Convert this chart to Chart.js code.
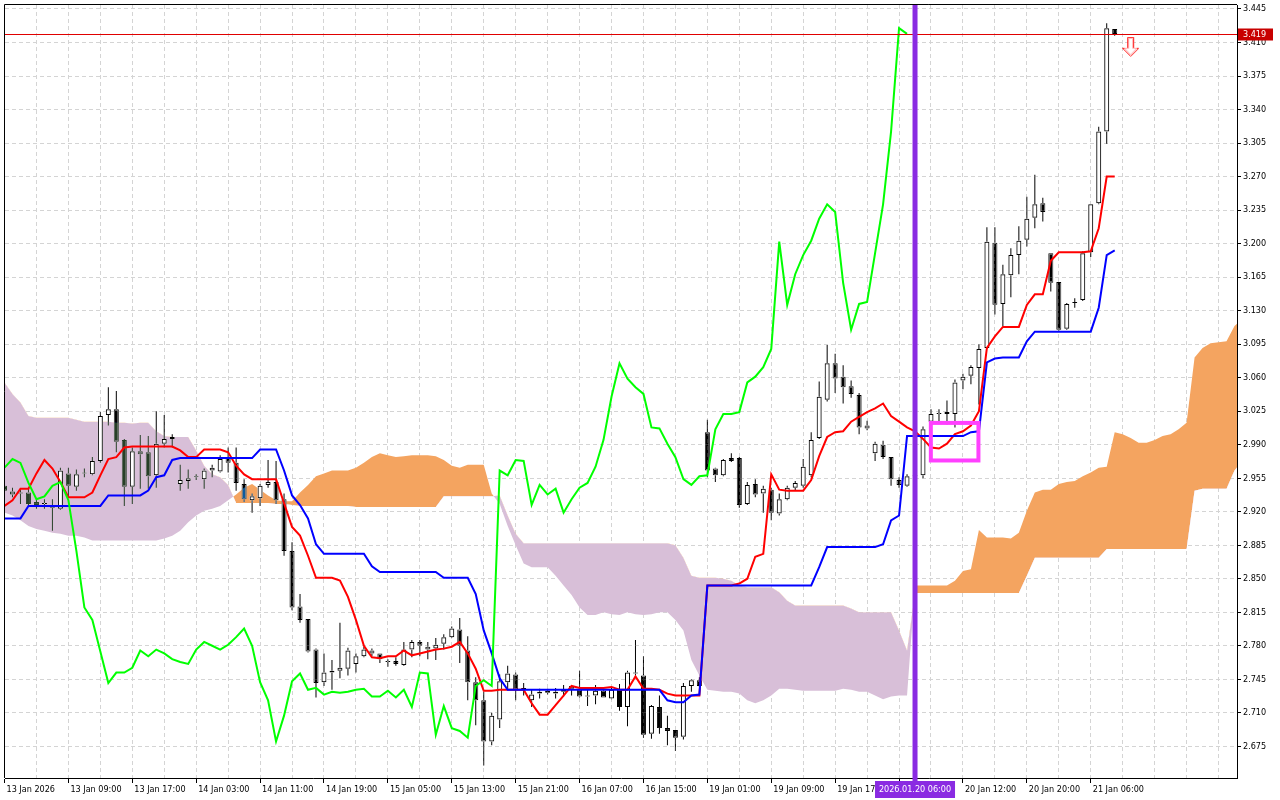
<!DOCTYPE html>
<html>
<head>
<meta charset="utf-8">
<script src="https://cdn.jsdelivr.net/npm/chart.js@4.4.1/dist/chart.umd.min.js"></script>
<style>
  html, body { margin: 0; padding: 0; background: #fff; }
</style>
</head>
<body>
<canvas id="chart" width="1280" height="800"></canvas>
<script>
// hourly candles, bar 0 = 13 Jan 2026 00:00
const opens = [
  2.947, 2.941, 2.940, 2.940, 2.930, 2.928, 2.927, 2.923, 2.960, 2.946,
  2.960, 2.959, 2.973, 3.021, 3.027, 2.995, 2.946, 2.983, 2.982, 2.958,
  2.991, 2.996, 2.949, 2.952, 2.956, 2.954, 2.963, 2.962, 2.977, 2.971,
  2.949, 2.932, 2.934, 2.948, 2.951, 2.933, 2.879, 2.821, 2.808, 2.776,
  2.742, 2.754, 2.754, 2.756, 2.761, 2.769, 2.775, 2.772, 2.763, 2.764,
  2.760, 2.776, 2.784, 2.779, 2.777, 2.782, 2.789, 2.797, 2.775, 2.742,
  2.723, 2.680, 2.703, 2.742, 2.750, 2.734, 2.723, 2.730, 2.733, 2.730,
  2.732, 2.738, 2.734, 2.727, 2.728, 2.733, 2.725, 2.734, 2.716, 2.751,
  2.749, 2.688, 2.716, 2.694, 2.692, 2.685, 2.738, 2.744, 3.003, 2.965,
  2.958, 2.976, 2.976, 2.928, 2.949, 2.939, 2.943, 2.918, 2.933, 2.945,
  2.947, 2.958, 2.997, 3.037, 3.075, 3.061, 3.051, 3.042, 3.010, 2.981,
  2.990, 2.977, 2.953, 2.947, 2.957, 2.958, 3.014, 3.022, 3.022, 3.022,
  3.057, 3.062, 3.070, 3.091, 3.201, 3.137, 3.167, 3.188, 3.204, 3.227,
  3.242, 3.190, 3.160, 3.111, 3.138, 3.141, 3.191, 3.242, 3.317, 3.424
];
const highs = [
  2.950, 2.945, 2.944, 2.944, 2.934, 2.933, 2.933, 2.966, 2.966, 2.964,
  2.965, 2.977, 3.024, 3.050, 3.046, 2.996, 2.987, 3.000, 2.999, 3.025,
  3.021, 3.001, 2.969, 2.964, 2.959, 2.965, 2.969, 2.979, 2.987, 2.987,
  2.954, 2.939, 2.949, 2.974, 2.973, 2.939, 2.888, 2.834, 2.808, 2.777,
  2.772, 2.765, 2.804, 2.778, 2.772, 2.779, 2.777, 2.772, 2.766, 2.768,
  2.784, 2.786, 2.786, 2.784, 2.788, 2.792, 2.800, 2.809, 2.790, 2.747,
  2.732, 2.710, 2.750, 2.759, 2.752, 2.741, 2.734, 2.735, 2.735, 2.736,
  2.739, 2.739, 2.754, 2.734, 2.739, 2.735, 2.737, 2.740, 2.754, 2.786,
  2.769, 2.718, 2.728, 2.707, 2.692, 2.741, 2.745, 2.747, 3.016, 2.966,
  2.975, 2.981, 2.977, 2.951, 2.954, 2.947, 2.945, 2.939, 2.947, 2.952,
  2.975, 3.003, 3.056, 3.094, 3.085, 3.073, 3.057, 3.044, 3.015, 2.993,
  2.994, 2.977, 2.956, 2.959, 2.961, 3.009, 3.027, 3.027, 3.036, 3.058,
  3.064, 3.073, 3.095, 3.217, 3.217, 3.178, 3.195, 3.218, 3.249, 3.272,
  3.248, 3.190, 3.160, 3.138, 3.143, 3.192, 3.241, 3.322, 3.430, 3.424
];
const lows = [
  2.939, 2.935, 2.928, 2.926, 2.923, 2.923, 2.900, 2.922, 2.935, 2.942,
  2.956, 2.958, 2.971, 3.010, 2.982, 2.926, 2.928, 2.944, 2.944, 2.945,
  2.987, 2.987, 2.942, 2.944, 2.953, 2.944, 2.956, 2.961, 2.961, 2.942,
  2.930, 2.919, 2.926, 2.945, 2.928, 2.874, 2.817, 2.804, 2.773, 2.726,
  2.738, 2.734, 2.746, 2.749, 2.752, 2.768, 2.769, 2.762, 2.758, 2.759,
  2.759, 2.768, 2.769, 2.766, 2.765, 2.776, 2.788, 2.762, 2.723, 2.697,
  2.655, 2.676, 2.694, 2.734, 2.723, 2.728, 2.716, 2.725, 2.729, 2.725,
  2.727, 2.728, 2.726, 2.717, 2.719, 2.726, 2.724, 2.712, 2.696, 2.749,
  2.684, 2.683, 2.688, 2.676, 2.670, 2.682, 2.732, 2.737, 2.956, 2.951,
  2.957, 2.972, 2.924, 2.927, 2.935, 2.919, 2.911, 2.916, 2.932, 2.942,
  2.945, 2.956, 2.996, 3.035, 3.044, 3.033, 3.039, 3.001, 3.005, 2.973,
  2.975, 2.947, 2.945, 2.946, 2.953, 2.955, 3.011, 3.013, 3.011, 3.008,
  3.048, 3.053, 3.032, 3.090, 3.126, 3.114, 3.144, 3.168, 3.197, 3.216,
  3.223, 3.150, 3.109, 3.110, 3.133, 3.140, 3.186, 3.241, 3.304, 3.417
];
const closes = [
  2.942, 2.938, 2.939, 2.928, 2.927, 2.928, 2.924, 2.963, 2.947, 2.959,
  2.960, 2.973, 3.020, 3.027, 2.993, 2.946, 2.983, 2.980, 2.957, 2.991,
  2.996, 2.998, 2.953, 2.955, 2.956, 2.963, 2.966, 2.975, 2.971, 2.950,
  2.933, 2.936, 2.947, 2.951, 2.932, 2.879, 2.820, 2.807, 2.774, 2.741,
  2.752, 2.752, 2.757, 2.775, 2.769, 2.776, 2.772, 2.766, 2.763, 2.761,
  2.776, 2.784, 2.780, 2.776, 2.781, 2.789, 2.798, 2.780, 2.742, 2.723,
  2.680, 2.707, 2.743, 2.751, 2.734, 2.736, 2.729, 2.732, 2.731, 2.732,
  2.734, 2.735, 2.727, 2.727, 2.733, 2.726, 2.734, 2.716, 2.752, 2.751,
  2.687, 2.717, 2.694, 2.691, 2.684, 2.738, 2.744, 2.738, 2.963, 2.958,
  2.974, 2.973, 2.927, 2.948, 2.938, 2.944, 2.919, 2.933, 2.945, 2.950,
  2.967, 2.995, 3.040, 3.075, 3.059, 3.050, 3.043, 3.008, 3.007, 2.991,
  2.977, 2.954, 2.948, 2.957, 2.958, 3.006, 3.022, 3.022, 3.024, 3.055,
  3.061, 3.071, 3.090, 3.202, 3.136, 3.168, 3.188, 3.203, 3.226, 3.241,
  3.233, 3.159, 3.110, 3.137, 3.139, 3.190, 3.241, 3.317, 3.425, 3.419
];

// Ichimoku (9, 26, 52)
const tenkan = [
  2.926, 2.932, 2.944, 2.944, 2.960, 2.974, 2.965, 2.951, 2.935, 2.935,
  2.935, 2.940, 2.958, 2.975, 2.977, 2.987, 2.988, 2.988, 2.988, 2.988,
  2.988, 2.988, 2.984, 2.977, 2.977, 2.985, 2.985, 2.985, 2.982, 2.968,
  2.959, 2.954, 2.954, 2.954, 2.954, 2.929, 2.904, 2.895, 2.874, 2.851,
  2.851, 2.851, 2.848, 2.831, 2.807, 2.780, 2.768, 2.767, 2.769, 2.769,
  2.775, 2.770, 2.772, 2.774, 2.776, 2.777, 2.779, 2.784, 2.772, 2.756,
  2.733, 2.733, 2.734, 2.734, 2.734, 2.734, 2.720, 2.708, 2.708, 2.718,
  2.728, 2.738, 2.736, 2.736, 2.736, 2.736, 2.737, 2.734, 2.734, 2.748,
  2.735, 2.735, 2.734, 2.730, 2.728, 2.728, 2.728, 2.728, 2.843, 2.843,
  2.843, 2.843, 2.845, 2.850, 2.873, 2.876, 2.959, 2.943, 2.942, 2.942,
  2.942, 2.953, 2.978, 2.998, 3.003, 3.004, 3.014, 3.019, 3.024, 3.028,
  3.033, 3.020, 3.014, 3.008, 3.004, 2.996, 2.987, 2.986, 2.991, 3.001,
  3.004, 3.010, 3.025, 3.091, 3.103, 3.113, 3.113, 3.113, 3.136, 3.147,
  3.147, 3.182, 3.191, 3.191, 3.191, 3.191, 3.192, 3.216, 3.270, 3.270
];
const kijun = [
  2.913, 2.913, 2.913, 2.926, 2.926, 2.926, 2.926, 2.926, 2.926, 2.926,
  2.926, 2.926, 2.926, 2.937, 2.937, 2.937, 2.937, 2.937, 2.942, 2.956,
  2.958, 2.974, 2.976, 2.976, 2.976, 2.976, 2.976, 2.976, 2.976, 2.976,
  2.976, 2.976, 2.985, 2.985, 2.985, 2.963, 2.937, 2.927, 2.913, 2.886,
  2.876, 2.876, 2.876, 2.876, 2.876, 2.876, 2.863, 2.857, 2.857, 2.857,
  2.857, 2.857, 2.857, 2.857, 2.857, 2.851, 2.851, 2.851, 2.851, 2.834,
  2.796, 2.772, 2.746, 2.734, 2.734, 2.734, 2.734, 2.734, 2.734, 2.734,
  2.734, 2.734, 2.734, 2.734, 2.734, 2.734, 2.734, 2.734, 2.734, 2.734,
  2.734, 2.734, 2.734, 2.723, 2.721, 2.721, 2.728, 2.729, 2.843, 2.843,
  2.843, 2.843, 2.843, 2.843, 2.843, 2.843, 2.843, 2.843, 2.843, 2.843,
  2.843, 2.843, 2.862, 2.883, 2.883, 2.883, 2.883, 2.883, 2.883, 2.883,
  2.886, 2.911, 2.916, 2.999, 2.999, 2.999, 2.999, 2.999, 2.999, 2.999,
  2.999, 3.003, 3.004, 3.076, 3.080, 3.081, 3.081, 3.081, 3.098, 3.108,
  3.108, 3.108, 3.108, 3.108, 3.108, 3.108, 3.108, 3.133, 3.188, 3.193
];
// cloud spans, already shifted 26 bars forward (bars 0..155)
const senkouA = [
  2.919, 2.916, 2.911, 2.905, 2.902, 2.900, 2.898, 2.897, 2.895, 2.895,
  2.893, 2.890, 2.890, 2.890, 2.890, 2.890, 2.890, 2.890, 2.890, 2.890,
  2.892, 2.895, 2.900, 2.909, 2.916, 2.921, 2.923, 2.926, 2.932, 2.938,
  2.945, 2.949, 2.943, 2.937, 2.932, 2.931, 2.931, 2.940, 2.948, 2.957,
  2.960, 2.963, 2.963, 2.963, 2.966, 2.971, 2.977, 2.981, 2.979, 2.977,
  2.978, 2.979, 2.979, 2.979, 2.978, 2.974, 2.968, 2.966, 2.969, 2.969,
  2.969, 2.939, 2.928, 2.905, 2.885, 2.866, 2.862, 2.862, 2.862, 2.853,
  2.843, 2.833, 2.820, 2.812, 2.812, 2.815, 2.813, 2.812, 2.815, 2.813,
  2.812, 2.813, 2.815, 2.815, 2.807, 2.796, 2.765, 2.749, 2.734, 2.733,
  2.732, 2.732, 2.730, 2.723, 2.720, 2.723, 2.728, 2.735, 2.735, 2.734,
  2.733, 2.733, 2.733, 2.733, 2.733, 2.735, 2.734, 2.732, 2.732, 2.728,
  2.724, 2.727, 2.728, 2.728, 2.843, 2.843, 2.843, 2.843, 2.843, 2.848,
  2.858, 2.860, 2.901, 2.893, 2.893, 2.893, 2.892, 2.898, 2.921, 2.940,
  2.943, 2.943, 2.949, 2.951, 2.952, 2.957, 2.961, 2.966, 2.967, 3.003,
  3.001, 2.997, 2.992, 2.992, 2.995, 2.999, 3.001, 3.006, 3.013, 3.081,
  3.091, 3.096, 3.097, 3.098, 3.114, 3.121
];
const senkouB = [
  3.055, 3.043, 3.034, 3.020, 3.018, 3.018, 3.018, 3.018, 3.018, 3.016,
  3.014, 3.014, 3.014, 3.014, 3.013, 3.013, 3.012, 3.013, 3.013, 3.004,
  2.999, 2.998, 2.998, 2.998, 2.984, 2.968, 2.959, 2.956, 2.948, 2.929,
  2.929, 2.929, 2.929, 2.929, 2.928, 2.928, 2.927, 2.926, 2.926, 2.926,
  2.926, 2.926, 2.926, 2.926, 2.925, 2.925, 2.925, 2.925, 2.925, 2.925,
  2.925, 2.925, 2.925, 2.925, 2.925, 2.936, 2.936, 2.936, 2.936, 2.936,
  2.936, 2.936, 2.937, 2.916, 2.897, 2.887, 2.887, 2.887, 2.887, 2.887,
  2.887, 2.887, 2.887, 2.887, 2.887, 2.887, 2.887, 2.887, 2.887, 2.887,
  2.887, 2.887, 2.887, 2.887, 2.885, 2.872, 2.853, 2.851, 2.851, 2.851,
  2.850, 2.848, 2.843, 2.841, 2.841, 2.841, 2.841, 2.836, 2.827, 2.822,
  2.822, 2.822, 2.822, 2.822, 2.822, 2.822, 2.819, 2.815, 2.815, 2.815,
  2.815, 2.815, 2.796, 2.775, 2.835, 2.835, 2.835, 2.835, 2.835, 2.835,
  2.835, 2.835, 2.835, 2.835, 2.835, 2.835, 2.835, 2.835, 2.853, 2.872,
  2.872, 2.872, 2.872, 2.872, 2.872, 2.872, 2.872, 2.872, 2.881, 2.881,
  2.881, 2.881, 2.881, 2.881, 2.881, 2.881, 2.881, 2.881, 2.881, 2.942,
  2.944, 2.944, 2.944, 2.944, 2.963, 2.973
];
const chikouShift = 26;

// axes
const priceTicks = [
  2.675, 2.710, 2.745, 2.780, 2.815, 2.850, 2.885, 2.920, 2.955, 2.990, 3.025, 3.060,
  3.095, 3.130, 3.165, 3.200, 3.235, 3.270, 3.305, 3.340, 3.375, 3.410, 3.445
];
const labelBars = [0, 8, 16, 24, 32, 40, 48, 56, 64, 72, 80, 88, 96, 104, 112, 120, 128, 136];
const labelTexts = [
  '13 Jan 2026', '13 Jan 09:00', '13 Jan 17:00', '14 Jan 03:00', '14 Jan 11:00', '14 Jan 19:00',
  '15 Jan 05:00', '15 Jan 13:00', '15 Jan 21:00', '16 Jan 07:00', '16 Jan 15:00', '19 Jan 01:00',
  '19 Jan 09:00', '19 Jan 17:00', '20 Jan 04:00', '20 Jan 12:00', '20 Jan 20:00', '21 Jan 06:00'
];

// chart objects
const lastPrice = 3.419;
const markerBar = 114;
const markerTime = '2026.01.20 06:00';
const boxBars = [115.73, 122.19];
const boxPrices = [3.0148, 2.9714];
const signalBars = [141];
const signalPrices = [3.405];

const FONT = "'DejaVu Sans Condensed', 'DejaVu Sans', sans-serif";
const GRID = '#d4d4d4';

const idx = closes.map((_, i) => i);
const isBull = i => closes[i] >= opens[i];
const bodyData = idx.map(i => ({ x: i, y: [Math.min(opens[i], closes[i]), Math.max(opens[i], closes[i])] }));
const bullFillData = idx.filter(isBull).map(i => ({ x: i, y: bodyData[i].y.slice() }));
const upperWickData = idx.map(i => ({ x: i, y: [Math.max(opens[i], closes[i]), highs[i]] }));
const lowerWickData = idx.map(i => ({ x: i, y: [lows[i], Math.min(opens[i], closes[i])] }));
const toPts = arr => arr.map((v, i) => ({ x: i, y: v }));
const chikouData = closes.map((v, i) => ({ x: i - chikouShift, y: v })).filter(p => p.x >= 0);

function makeArrow() {
  const c = document.createElement('canvas');
  c.width = 17; c.height = 21;
  const g = c.getContext('2d');
  const shape = (d) => {
    g.beginPath();
    g.moveTo(5.5 + d, 0.5 + d); g.lineTo(11.5 - d, 0.5 + d); g.lineTo(11.5 - d, 11.5);
    g.lineTo(16.5 - 2 * d, 11.5); g.lineTo(8.5, 19.5 - 1.5 * d); g.lineTo(0.5 + 2 * d, 11.5);
    g.lineTo(5.5 + d, 11.5); g.closePath();
  };
  shape(0);
  g.fillStyle = '#fff'; g.fill();
  g.strokeStyle = '#ff2020'; g.lineWidth = 1; g.stroke();
  shape(1);
  g.strokeStyle = '#ffb4b4'; g.stroke();
  return c;
}

// opaque white canvas, needed for the inverted candle drawing below
const backgroundPlugin = {
  id: 'whiteBg',
  beforeDraw(chart) {
    const { ctx, width, height } = chart;
    ctx.save();
    ctx.fillStyle = '#fff';
    ctx.fillRect(0, 0, width, height);
    ctx.restore();
  }
};

// black candle parts are drawn inverted, like the terminal does over the cloud
const invertPlugin = {
  id: 'invertCandles',
  beforeDatasetDraw(chart, args) {
    if (chart.data.datasets[args.index].invert) chart.ctx.globalCompositeOperation = 'difference';
  },
  afterDatasetDraw(chart) {
    chart.ctx.globalCompositeOperation = 'source-over';
  }
};

const overlayPlugin = {
  id: 'overlay',
  afterDatasetsDraw(chart) {
    const { ctx, chartArea: a, scales: { x, y } } = chart;
    ctx.save();
    const py = Math.round(y.getPixelForValue(lastPrice)) + 0.5;
    ctx.strokeStyle = '#e00000';
    ctx.lineWidth = 1;
    ctx.beginPath(); ctx.moveTo(a.left, py); ctx.lineTo(a.right, py); ctx.stroke();

    const vx = x.getPixelForValue(markerBar);
    ctx.fillStyle = '#8a2be2';
    ctx.fillRect(vx - 2.5, a.top, 5, a.bottom - a.top + 3);

    const bx1 = x.getPixelForValue(boxBars[0]), bx2 = x.getPixelForValue(boxBars[1]);
    const by1 = y.getPixelForValue(boxPrices[0]), by2 = y.getPixelForValue(boxPrices[1]);
    ctx.strokeStyle = '#ff40ff';
    ctx.lineWidth = 4;
    ctx.strokeRect(bx1 + 2, by1 + 2, bx2 - bx1 - 4, by2 - by1 - 4);
    ctx.restore();
  },
  afterDraw(chart) {
    const { ctx, chartArea: a, scales: { x, y } } = chart;
    ctx.save();
    // frame
    ctx.strokeStyle = '#000';
    ctx.lineWidth = 1;
    ctx.beginPath();
    ctx.moveTo(a.left - 0.5, a.bottom); ctx.lineTo(a.left - 0.5, a.top - 0.5); ctx.lineTo(a.right, a.top - 0.5);
    ctx.stroke();

    ctx.font = '9px ' + FONT;
    ctx.textBaseline = 'middle';
    // price tag
    const py = Math.round(y.getPixelForValue(lastPrice)) + 0.5;
    ctx.fillStyle = '#c80000';
    ctx.fillRect(a.right + 1, py - 6, 35, 12);
    ctx.fillStyle = '#fff';
    ctx.textAlign = 'left';
    ctx.fillText(lastPrice.toFixed(3), a.right + 6, py);
    // time tag
    const vx = x.getPixelForValue(markerBar);
    ctx.fillStyle = '#8a2be2';
    ctx.fillRect(vx - 40, a.bottom + 3, 80, 17);
    ctx.fillStyle = '#fff';
    ctx.textAlign = 'center';
    ctx.fillText(markerTime, vx, a.bottom + 12);
    ctx.restore();
  }
};

const barCommon = { grouped: false, inflateAmount: 0, borderSkipped: false };

new Chart(document.getElementById('chart'), {
  type: 'line',
  data: {
    datasets: [
      { label: 'Senkou A', data: toPts(senkouA), borderWidth: 0, pointRadius: 0,
        fill: { target: 1, above: '#f4a460', below: '#d8bfd8' }, order: 20 },
      { label: 'Senkou B', data: toPts(senkouB), borderWidth: 0, pointRadius: 0, fill: false, order: 21 },
      { ...barCommon, type: 'bar', label: 'bull body', data: bullFillData, backgroundColor: '#fff',
        borderWidth: 0, barThickness: 5, minBarLength: 1, order: 15 },
      { ...barCommon, type: 'bar', label: 'upper wick', data: upperWickData, backgroundColor: '#fff',
        borderWidth: 0, barThickness: 1, order: 14, invert: true },
      { ...barCommon, type: 'bar', label: 'lower wick', data: lowerWickData, backgroundColor: '#fff',
        borderWidth: 0, barThickness: 1, order: 13, invert: true },
      { ...barCommon, type: 'bar', label: 'body', data: bodyData,
        backgroundColor: idx.map(i => isBull(i) ? 'rgba(0,0,0,0)' : '#fff'),
        borderColor: '#fff', borderWidth: 1,
        barThickness: 5, minBarLength: 1, order: 12, invert: true },
      { label: 'Tenkan-sen', data: toPts(tenkan), borderColor: '#ff0000', borderWidth: 2,
        pointRadius: 0, tension: 0, fill: false, order: 4 },
      { label: 'Kijun-sen', data: toPts(kijun), borderColor: '#0000ff', borderWidth: 2,
        pointRadius: 0, tension: 0, fill: false, order: 3 },
      { label: 'Chikou Span', data: chikouData, borderColor: '#00ff00', borderWidth: 2,
        pointRadius: 0, tension: 0, fill: false, order: 2 },
      { label: 'signal', data: signalBars.map((b, k) => ({ x: b, y: signalPrices[k] })),
        showLine: false, pointStyle: makeArrow(), pointRadius: 3, order: 1 }
    ]
  },
  options: {
    responsive: false,
    devicePixelRatio: 1,
    animation: false,
    events: [],
    layout: { padding: { left: 3, top: 3, right: 0, bottom: 0 } },
    plugins: { legend: { display: false }, tooltip: { enabled: false } },
    scales: {
      x: {
        type: 'linear', min: 0.0625, max: 154.3125, offset: false,
        afterBuildTicks: s => {
          const t = [];
          for (let b = 0; b <= 152; b += 4) t.push({ value: b });
          s.ticks = t;
        },
        afterFit: s => { s.height = 22; s.paddingLeft = 0; s.paddingRight = 0; },
        ticks: {
          autoSkip: false, maxRotation: 0, align: 'start', labelOffset: 2, padding: 1,
          color: '#000', font: { family: FONT, size: 9 },
          callback: v => { const k = labelBars.indexOf(v); return k >= 0 ? labelTexts[k] : ''; }
        },
        grid: {
          color: GRID, offset: false, tickLength: 5,
          tickColor: c => (c.tick && labelBars.includes(c.tick.value)) ? '#000' : 'rgba(0,0,0,0)'
        },
        border: { display: true, color: '#000', dash: [4, 3] }
      },
      y: {
        type: 'linear', position: 'right', min: 2.64188, max: 3.44917, beginAtZero: false,
        afterBuildTicks: s => { s.ticks = priceTicks.map(v => ({ value: v })); },
        afterFit: s => { s.width = 43; s.paddingTop = 0; s.paddingBottom = 0; },
        ticks: {
          autoSkip: false, padding: 2, color: '#000', font: { family: FONT, size: 9 },
          callback: v => v.toFixed(3)
        },
        grid: { color: GRID, tickLength: 4, tickColor: '#000' },
        border: { display: true, color: '#000', dash: [4, 3] }
      }
    }
  },
  plugins: [backgroundPlugin, invertPlugin, overlayPlugin]
});
</script>
</body>
</html>
